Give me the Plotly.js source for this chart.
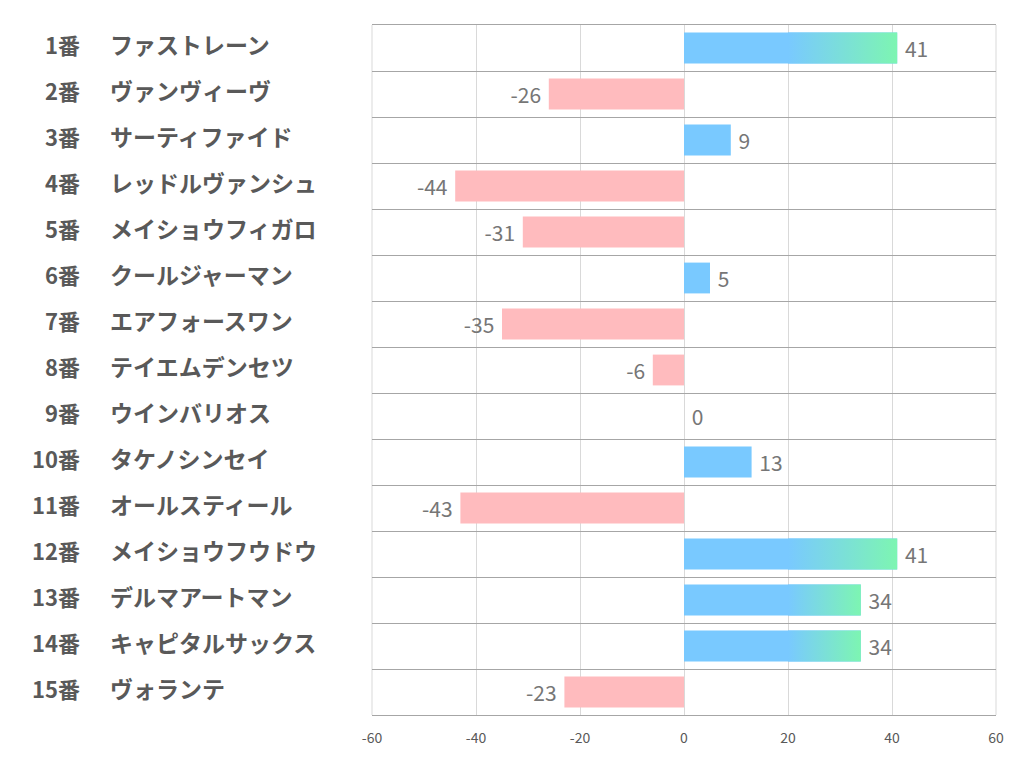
<!DOCTYPE html>
<html>
<head>
<meta charset="utf-8">
<script src="https://cdn.plot.ly/plotly-3.0.1.min.js"></script>
<style>html,body{margin:0;padding:0;background:#fff;}#chart{width:1022px;height:782px;}</style>
</head>
<body>
<div id="chart"></div>
<script>
const numbers = ["1番","2番","3番","4番","5番","6番","7番","8番","9番","10番","11番","12番","13番","14番","15番"];
const horses = ["ファストレーン","ヴァンヴィーヴ","サーティファイド","レッドルヴァンシュ","メイショウフィガロ","クールジャーマン","エアフォースワン","テイエムデンセツ","ウインバリオス","タケノシンセイ","オールスティール","メイショウフウドウ","デルマアートマン","キャピタルサックス","ヴォランテ"];
const values = [41,-26,9,-44,-31,5,-35,-6,0,13,-43,41,34,34,-23];
const xTicks = [-60,-40,-20,0,20,40,60];

const BLUE = "#79c9ff", GREEN = "#7df5b2", PINK = "#ffbbbe";
const gradStart = 20;
const barW = 0.67;
const idx = values.map((v,i)=>i);
const NB = "\u00a0";

const traces = [{
  type: "bar", orientation: "h",
  x: values, y: idx,
  width: barW,
  marker: {color: values.map(v => v >= 0 ? BLUE : PINK), line: {width: 0}},
  text: values.map(v => v >= 0 ? NB + String(v) : String(v) + NB),
  textposition: "outside",
  textfont: {family: "Noto Sans CJK JP, Noto Sans, sans-serif", size: 21, color: "#767676"},
  cliponaxis: false,
  hoverinfo: "x+y"
}];

// gradient overlay for the part of long positive bars beyond gradStart
values.forEach((v, i) => {
  if (v > gradStart) {
    const h = barW / 2;
    traces.push({
      type: "scatter", mode: "lines",
      x: [gradStart, v, v, gradStart, gradStart],
      y: [i - h, i - h, i + h, i + h, i - h],
      fill: "toself",
      line: {width: 0},
      fillgradient: {type: "horizontal", start: gradStart, stop: v, colorscale: [[0, BLUE], [1, GREEN]]},
      hoverinfo: "skip", showlegend: false
    });
  }
});

const labelFont = {family: "Noto Sans CJK JP, sans-serif", size: 23, color: "#595959", weight: "bold"};
const annotations = [];
numbers.forEach((n, i) => {
  annotations.push({xref: "paper", yref: "y", x: -0.4647, y: i, xanchor: "right", yanchor: "middle", yshift: 4,
    text: n, showarrow: false, font: Object.assign({}, labelFont, {size: 22})});
  annotations.push({xref: "paper", yref: "y", x: -0.4231, y: i, xanchor: "left", yanchor: "middle", yshift: 4,
    text: horses[i], showarrow: false, font: labelFont});
});

const sepVals = [];
for (let k = 0; k < values.length - 1; k++) sepVals.push(k + 0.5);

const layout = {
  width: 1022, height: 782,
  margin: {l: 372, r: 26, t: 25, b: 67},
  paper_bgcolor: "#fff", plot_bgcolor: "#fff",
  showlegend: false,
  xaxis: {
    range: [-60, 60], tickvals: xTicks, ticktext: xTicks.map(String),
    showgrid: true, gridcolor: "#d9d9d9", gridwidth: 1,
    zeroline: false, showline: true, mirror: true, linecolor: "#a6a6a6", linewidth: 1,
    ticks: "", ticklabelstandoff: 10,
    tickfont: {family: "Noto Sans CJK JP, Noto Sans, sans-serif", size: 14, color: "#595959"},
    fixedrange: true
  },
  yaxis: {
    range: [14.5, -0.5], tickvals: sepVals, showticklabels: false,
    showgrid: true, gridcolor: "#a6a6a6", gridwidth: 1,
    zeroline: false, showline: false, ticks: "", fixedrange: true
  },
  shapes: [
    {type: "line", xref: "paper", yref: "paper", x0: 0, x1: 0, y0: 0, y1: 1, line: {color: "#d9d9d9", width: 1}, layer: "below"},
    {type: "line", xref: "paper", yref: "paper", x0: 1, x1: 1, y0: 0, y1: 1, line: {color: "#d9d9d9", width: 1}, layer: "below"}
  ],
  annotations: annotations
};

Plotly.newPlot("chart", traces, layout, {displayModeBar: false, staticPlot: true});
</script>
</body>
</html>
